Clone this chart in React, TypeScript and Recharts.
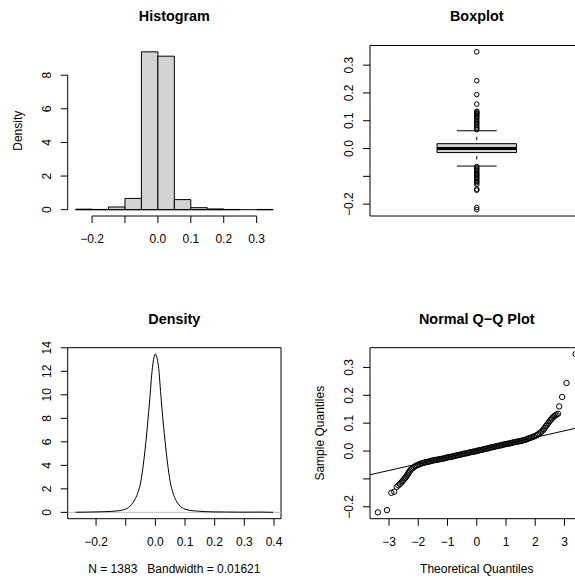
import React from 'react';
import {
  ScatterChart,
  Scatter,
  LineChart,
  Line,
  XAxis,
  YAxis,
  ReferenceArea,
  ReferenceLine,
} from 'recharts';

const FONT = '"Liberation Sans", Arial, Helvetica, sans-serif';

// ---------- Histogram ----------
const histBreaks = [-0.25, -0.2, -0.15, -0.1, -0.05, 0, 0.05, 0.1, 0.15, 0.2, 0.25, 0.3, 0.35];
const histDensity = [0.029, 0.014, 0.16, 0.67, 9.39, 9.13, 0.6, 0.12, 0.043, 0.014, 0, 0.014];
const histXTicks = [-0.2, -0.1, 0, 0.1, 0.2, 0.3];
const histXLabels = ['\u22120.2', '', '0.0', '0.1', '0.2', '0.3'];
const histYTicks = [0, 2, 4, 6, 8];
const histYLabels = ['0', '2', '4', '6', '8'];

// ---------- Boxplot ----------
const boxQ1 = -0.0145;
const boxMedian = 0.0;
const boxQ3 = 0.0175;
const boxLowerWhisker = -0.063;
const boxUpperWhisker = 0.064;
const sampleYTicks = [-0.2, -0.1, 0, 0.1, 0.2, 0.3];
const sampleYLabels = ['\u22120.2', '', '0.0', '0.1', '0.2', '0.3'];

// ---------- Normal Q-Q ----------
const qqTheoretical = [
  -3.38, -3.07, -2.92, -2.82, -2.74, -2.68, -2.63, -2.58, -2.54, -2.5, -2.46, -2.43, -2.4, -2.37,
  -2.34, -2.31, -2.28, -2.24, -2.2, -2.15, -2.1, -2.05,
  -2.0, -1.95, -1.9, -1.85, -1.8, -1.75, -1.7, -1.65, -1.6, -1.55, -1.5, -1.45, -1.4, -1.35, -1.3,
  -1.25, -1.2, -1.15, -1.1, -1.05, -1.0, -0.95, -0.9, -0.85, -0.8, -0.75, -0.7, -0.65, -0.6, -0.55,
  -0.5, -0.45, -0.4, -0.35, -0.3, -0.25, -0.2, -0.15, -0.1, -0.05, 0.0, 0.05, 0.1, 0.15, 0.2, 0.25,
  0.3, 0.35, 0.4, 0.45, 0.5, 0.55, 0.6, 0.65, 0.7, 0.75, 0.8, 0.85, 0.9, 0.95, 1.0, 1.05, 1.1, 1.15,
  1.2, 1.25, 1.3, 1.35, 1.4, 1.45, 1.5, 1.55, 1.6, 1.65, 1.7, 1.75, 1.8, 1.85, 1.9, 1.95, 2.0,
  2.05, 2.1, 2.15, 2.2, 2.25, 2.29, 2.33, 2.37, 2.41, 2.45, 2.49, 2.53, 2.57, 2.61, 2.65, 2.69,
  2.73, 2.78, 2.82, 2.92, 3.07, 3.38,
];
const qqSample = [
  -0.22, -0.212, -0.15, -0.146, -0.129, -0.123, -0.118, -0.113, -0.108, -0.103, -0.098, -0.094,
  -0.09, -0.085, -0.08, -0.075, -0.07, -0.065, -0.062, -0.058, -0.054, -0.051,
  -0.049, -0.047, -0.045, -0.043, -0.042, -0.04, -0.039, -0.038, -0.037, -0.035, -0.034, -0.033,
  -0.032, -0.031, -0.03, -0.029, -0.028, -0.027, -0.026, -0.024, -0.023, -0.022, -0.021, -0.02,
  -0.019, -0.017, -0.016, -0.015, -0.014, -0.013, -0.011, -0.01, -0.009, -0.008, -0.007, -0.005,
  -0.004, -0.003, -0.002, -0.001, 0.0, 0.002, 0.003, 0.004, 0.005, 0.007, 0.008, 0.009, 0.01,
  0.012, 0.013, 0.014, 0.015, 0.017, 0.018, 0.019, 0.02, 0.021, 0.023, 0.024, 0.025, 0.026, 0.027,
  0.028, 0.029, 0.031, 0.032, 0.033, 0.034, 0.035, 0.036, 0.037, 0.039, 0.04, 0.042, 0.044, 0.046,
  0.048, 0.05, 0.052, 0.054,
  0.057, 0.06, 0.064, 0.068, 0.073, 0.078, 0.084, 0.09, 0.095, 0.101, 0.107, 0.112, 0.117, 0.121,
  0.125, 0.128, 0.131, 0.134, 0.16, 0.194, 0.244, 0.348,
];
const qqXTicks = [-3, -2, -1, 0, 1, 2, 3];
const qqXLabels = ['\u22123', '\u22122', '\u22121', '0', '1', '2', '3'];

// ---------- Kernel density ----------
const densityX = [
  -0.269, -0.24, -0.2, -0.17, -0.15, -0.13, -0.11, -0.1, -0.09, -0.08, -0.07, -0.06, -0.05, -0.04,
  -0.03, -0.02, -0.01, -0.005, 0, 0.005, 0.01, 0.02, 0.03, 0.04, 0.05, 0.06, 0.07, 0.08, 0.09, 0.1,
  0.11, 0.13, 0.15, 0.17, 0.2, 0.24, 0.28, 0.32, 0.35, 0.38, 0.397,
];
const densityY = [
  0.01, 0.02, 0.04, 0.06, 0.08, 0.12, 0.2, 0.28, 0.42, 0.68, 1.05, 1.6, 2.5, 4.2, 6.5, 9.3, 12.3,
  13.15, 13.47, 13.2, 12.5, 9.5, 6.7, 4.4, 2.6, 1.6, 1.0, 0.62, 0.4, 0.27, 0.2, 0.13, 0.09, 0.06,
  0.04, 0.03, 0.02, 0.02, 0.025, 0.015, 0.008,
];
const densityXTicks = [-0.2, -0.1, 0, 0.1, 0.2, 0.3, 0.4];
const densityXLabels = ['\u22120.2', '', '0.0', '0.1', '0.2', '0.3', '0.4'];
const densityYTicks = [0, 2, 4, 6, 8, 10, 12, 14];
const densityYLabels = ['0', '2', '4', '6', '8', '10', '12', '14'];
const densityN = 1383;
const densityBandwidth = '0.01621';

// ---------- layout ----------
const PAGE_W = 575;
const PAGE_H = 579;
const LEFT = { x0: 67.7, x1: 281.0 };
const RIGHT = { x0: 370.0, x1: 583.5 };
const TOP = { y0: 45.5, y1: 216.0 };
const BOTTOM = { y0: 347.7, y1: 518.7 };
const TICK_LEN = 7;
const XLABEL_DROP = 27; // tick label baseline below plot edge
const YLABEL_GAP = 16.5; // rotated tick label baseline left of plot edge

type Cell = { left: number; top: number; width: number; height: number };
type XR = { x0: number; x1: number };
type YR = { y0: number; y1: number };

// R-style axis range: data range widened by 4% on each side
const pad = (lo: number, hi: number): [number, number] => {
  const r = hi - lo;
  return [lo - 0.04 * r, hi + 0.04 * r];
};

function frameFor(cell: Cell, xr: XR, yr: YR, hasXAxis = true) {
  return {
    yAxisWidth: xr.x0 - cell.left,
    xAxisHeight: hasXAxis ? cell.top + cell.height - yr.y1 : 0,
    margin: {
      top: yr.y0 - cell.top,
      right: cell.left + cell.width - xr.x1,
      left: 0,
      bottom: hasXAxis ? 0 : cell.top + cell.height - yr.y1,
    },
  };
}

const labelFor = (ticks: number[], labels: string[], v: number) => {
  const i = ticks.findIndex((t) => Math.abs(t - v) < 1e-9);
  return i >= 0 ? labels[i] : '';
};

const makeXTick = (ticks: number[], labels: string[], baseline: number) => (props: any) => (
  <text x={props.x} y={baseline} textAnchor="middle" fontSize={12} fontFamily={FONT} fill="#000">
    {labelFor(ticks, labels, props.payload.value)}
  </text>
);

const makeYTick = (ticks: number[], labels: string[], bx: number) => (props: any) => (
  <text
    x={bx}
    y={props.y}
    transform={`rotate(-90 ${bx} ${props.y})`}
    textAnchor="middle"
    fontSize={12}
    fontFamily={FONT}
    fill="#000"
  >
    {labelFor(ticks, labels, props.payload.value)}
  </text>
);

const noShape = () => <g />;
const ringOf = (r: number) => (p: any) => (
  <circle cx={p.cx} cy={p.cy} r={r} fill="none" stroke="#000" strokeWidth={1} />
);

const sampleDomain = pad(Math.min(...qqSample), Math.max(...qqSample));

function Histogram() {
  const cell = { left: 0, top: 0, width: 290, height: 290 };
  const f = frameFor(cell, LEFT, TOP);
  const xDomain = pad(histBreaks[0], histBreaks[histBreaks.length - 1]);
  const yDomain = pad(0, Math.max(...histDensity));
  const mids = histDensity.map((d, i) => ({ x: (histBreaks[i] + histBreaks[i + 1]) / 2, y: d }));
  return (
    <div style={{ position: 'absolute', left: cell.left, top: cell.top }}>
      <ScatterChart width={cell.width} height={cell.height} margin={f.margin}>
        <XAxis
          type="number"
          dataKey="x"
          domain={xDomain}
          allowDataOverflow
          ticks={histXTicks}
          interval={0}
          axisLine={false}
          stroke="#000"
          tickSize={TICK_LEN}
          tickMargin={0}
          height={f.xAxisHeight}
          tick={makeXTick(histXTicks, histXLabels, TOP.y1 + XLABEL_DROP - cell.top)}
        />
        <YAxis
          type="number"
          dataKey="y"
          domain={yDomain}
          allowDataOverflow
          ticks={histYTicks}
          interval={0}
          axisLine={false}
          stroke="#000"
          tickSize={TICK_LEN}
          tickMargin={0}
          width={f.yAxisWidth}
          tick={makeYTick(histYTicks, histYLabels, LEFT.x0 - YLABEL_GAP - cell.left)}
        />
        {histDensity.map((d, i) => (
          <ReferenceArea
            key={i}
            x1={histBreaks[i]}
            x2={histBreaks[i + 1]}
            y1={0}
            y2={d}
            fill="#d3d3d3"
            fillOpacity={1}
            stroke="#000"
            strokeWidth={1}
            ifOverflow="visible"
          />
        ))}
        <ReferenceLine
          segment={[
            { x: histBreaks[0], y: 0 },
            { x: histBreaks[histBreaks.length - 1], y: 0 },
          ]}
          stroke="#000"
          strokeWidth={1}
          ifOverflow="visible"
        />
        {/* axis lines span the tick range only */}
        <ReferenceLine
          segment={[
            { x: xDomain[0], y: histYTicks[0] },
            { x: xDomain[0], y: histYTicks[histYTicks.length - 1] },
          ]}
          stroke="#000"
          ifOverflow="visible"
        />
        <ReferenceLine
          segment={[
            { x: histXTicks[0], y: yDomain[0] },
            { x: histXTicks[histXTicks.length - 1], y: yDomain[0] },
          ]}
          stroke="#000"
          ifOverflow="visible"
        />
        <Scatter data={mids} shape={noShape} isAnimationActive={false} />
      </ScatterChart>
    </div>
  );
}

function Boxplot() {
  const cell = { left: 290, top: 0, width: 310, height: 290 };
  const f = frameFor(cell, RIGHT, TOP, false);
  const xDomain: [number, number] = [0.5, 1.5];
  const boxHalf = 0.186;
  const stapleHalf = 0.0935;
  const outliers = qqSample
    .filter((v) => v < boxLowerWhisker || v > boxUpperWhisker)
    .map((v) => ({ x: 1, y: v }));
  return (
    <div style={{ position: 'absolute', left: cell.left, top: cell.top }}>
      <ScatterChart width={cell.width} height={cell.height} margin={f.margin}>
        <XAxis type="number" dataKey="x" domain={xDomain} allowDataOverflow hide />
        <YAxis
          type="number"
          dataKey="y"
          domain={sampleDomain}
          allowDataOverflow
          ticks={sampleYTicks}
          interval={0}
          axisLine={false}
          stroke="#000"
          tickSize={TICK_LEN}
          tickMargin={0}
          width={f.yAxisWidth}
          tick={makeYTick(sampleYTicks, sampleYLabels, RIGHT.x0 - YLABEL_GAP - cell.left)}
        />
        <ReferenceArea
          x1={xDomain[0]}
          x2={xDomain[1]}
          y1={sampleDomain[0]}
          y2={sampleDomain[1]}
          fill="none"
          stroke="#000"
          ifOverflow="visible"
        />
        {/* whiskers: one dash between staple and hinge */}
        <ReferenceLine
          segment={[{ x: 1, y: boxUpperWhisker }, { x: 1, y: boxQ3 }]}
          stroke="#000"
          strokeDasharray="0 6 3.5 40"
          ifOverflow="visible"
        />
        <ReferenceLine
          segment={[{ x: 1, y: boxLowerWhisker }, { x: 1, y: boxQ1 }]}
          stroke="#000"
          strokeDasharray="0 6.5 3.5 40"
          ifOverflow="visible"
        />
        <ReferenceLine
          segment={[{ x: 1 - stapleHalf, y: boxUpperWhisker }, { x: 1 + stapleHalf, y: boxUpperWhisker }]}
          stroke="#000"
          ifOverflow="visible"
        />
        <ReferenceLine
          segment={[{ x: 1 - stapleHalf, y: boxLowerWhisker }, { x: 1 + stapleHalf, y: boxLowerWhisker }]}
          stroke="#000"
          ifOverflow="visible"
        />
        <ReferenceArea
          x1={1 - boxHalf}
          x2={1 + boxHalf}
          y1={boxQ1}
          y2={boxQ3}
          fill="#d3d3d3"
          fillOpacity={1}
          stroke="#000"
          ifOverflow="visible"
        />
        <ReferenceLine
          segment={[{ x: 1 - boxHalf, y: boxMedian }, { x: 1 + boxHalf, y: boxMedian }]}
          stroke="#000"
          strokeWidth={3}
          ifOverflow="visible"
        />
        <Scatter data={outliers} shape={ringOf(2.3)} isAnimationActive={false} />
      </ScatterChart>
    </div>
  );
}

function DensityPanel() {
  const cell = { left: 0, top: 290, width: 290, height: 289 };
  const f = frameFor(cell, LEFT, BOTTOM);
  const xDomain = pad(densityX[0], densityX[densityX.length - 1]);
  const yDomain = pad(0, Math.max(...densityY));
  const data = densityX.map((x, i) => ({ x, y: densityY[i] }));
  return (
    <div style={{ position: 'absolute', left: cell.left, top: cell.top }}>
      <LineChart width={cell.width} height={cell.height} margin={f.margin} data={data}>
        <XAxis
          type="number"
          dataKey="x"
          domain={xDomain}
          allowDataOverflow
          ticks={densityXTicks}
          interval={0}
          axisLine={false}
          stroke="#000"
          tickSize={TICK_LEN}
          tickMargin={0}
          height={f.xAxisHeight}
          tick={makeXTick(densityXTicks, densityXLabels, BOTTOM.y1 + XLABEL_DROP - cell.top)}
        />
        <YAxis
          type="number"
          domain={yDomain}
          allowDataOverflow
          ticks={densityYTicks}
          interval={0}
          axisLine={false}
          stroke="#000"
          tickSize={TICK_LEN}
          tickMargin={0}
          width={f.yAxisWidth}
          tick={makeYTick(densityYTicks, densityYLabels, LEFT.x0 - YLABEL_GAP - cell.left)}
        />
        <ReferenceLine y={0} stroke="#bebebe" strokeWidth={1} ifOverflow="visible" />
        <ReferenceArea
          x1={xDomain[0]}
          x2={xDomain[1]}
          y1={yDomain[0]}
          y2={yDomain[1]}
          fill="none"
          stroke="#000"
          ifOverflow="visible"
        />
        <Line
          type="monotone"
          dataKey="y"
          stroke="#000"
          strokeWidth={1}
          dot={false}
          activeDot={false}
          isAnimationActive={false}
        />
      </LineChart>
    </div>
  );
}

function QQPanel() {
  const cell = { left: 290, top: 290, width: 310, height: 289 };
  const f = frameFor(cell, RIGHT, BOTTOM);
  const xDomain = pad(qqTheoretical[0], qqTheoretical[qqTheoretical.length - 1]);
  const points = qqTheoretical.map((x, i) => ({ x, y: qqSample[i] }));
  // reference line through the first and third quartiles
  const z75 = 0.6745;
  const slope = (boxQ3 - boxQ1) / (2 * z75);
  const intercept = boxQ1 + slope * z75;
  return (
    <div style={{ position: 'absolute', left: cell.left, top: cell.top }}>
      <ScatterChart width={cell.width} height={cell.height} margin={f.margin}>
        <XAxis
          type="number"
          dataKey="x"
          domain={xDomain}
          allowDataOverflow
          ticks={qqXTicks}
          interval={0}
          axisLine={false}
          stroke="#000"
          tickSize={TICK_LEN}
          tickMargin={0}
          height={f.xAxisHeight}
          tick={makeXTick(qqXTicks, qqXLabels, BOTTOM.y1 + XLABEL_DROP - cell.top)}
        />
        <YAxis
          type="number"
          dataKey="y"
          domain={sampleDomain}
          allowDataOverflow
          ticks={sampleYTicks}
          interval={0}
          axisLine={false}
          stroke="#000"
          tickSize={TICK_LEN}
          tickMargin={0}
          width={f.yAxisWidth}
          tick={makeYTick(sampleYTicks, sampleYLabels, RIGHT.x0 - YLABEL_GAP - cell.left)}
        />
        <ReferenceArea
          x1={xDomain[0]}
          x2={xDomain[1]}
          y1={sampleDomain[0]}
          y2={sampleDomain[1]}
          fill="none"
          stroke="#000"
          ifOverflow="visible"
        />
        <ReferenceLine
          segment={[
            { x: xDomain[0], y: intercept + slope * xDomain[0] },
            { x: xDomain[1], y: intercept + slope * xDomain[1] },
          ]}
          stroke="#000"
          strokeWidth={1}
          ifOverflow="visible"
        />
        <Scatter data={points} shape={ringOf(2.7)} isAnimationActive={false} />
      </ScatterChart>
    </div>
  );
}

function Titles() {
  const lcx = (LEFT.x0 + LEFT.x1) / 2;
  const rcx = (RIGHT.x0 + RIGHT.x1) / 2;
  const main = { fontSize: 14.4, fontWeight: 700, fontFamily: FONT, fill: '#000', textAnchor: 'middle' as const };
  const lab = { fontSize: 12, fontFamily: FONT, fill: '#000', textAnchor: 'middle' as const };
  const topMid = (TOP.y0 + TOP.y1) / 2;
  const botMid = (BOTTOM.y0 + BOTTOM.y1) / 2;
  return (
    <svg
      width={PAGE_W}
      height={PAGE_H}
      style={{ position: 'absolute', left: 0, top: 0, pointerEvents: 'none' }}
    >
      <text x={lcx} y={20.5} {...main}>Histogram</text>
      <text x={rcx} y={20.5} {...main}>Boxplot</text>
      <text x={lcx} y={324} {...main}>Density</text>
      <text x={rcx} y={324} {...main}>Normal Q{'\u2212'}Q Plot</text>
      <text x={21.6} y={topMid} transform={`rotate(-90 21.6 ${topMid})`} {...lab}>Density</text>
      <text x={323.9} y={botMid} transform={`rotate(-90 323.9 ${botMid})`} {...lab}>Sample Quantiles</text>
      <text x={lcx} y={572.5} {...lab} style={{ whiteSpace: 'pre' }}>
        {`N = ${densityN}   Bandwidth = ${densityBandwidth}`}
      </text>
      <text x={rcx} y={572.5} {...lab}>Theoretical Quantiles</text>
    </svg>
  );
}

export default function App() {
  return (
    <div
      style={{
        position: 'fixed',
        left: 0,
        top: 0,
        width: PAGE_W,
        height: PAGE_H,
        overflow: 'hidden',
        background: '#fff',
      }}
    >
      <Histogram />
      <Boxplot />
      <DensityPanel />
      <QQPanel />
      <Titles />
    </div>
  );
}
